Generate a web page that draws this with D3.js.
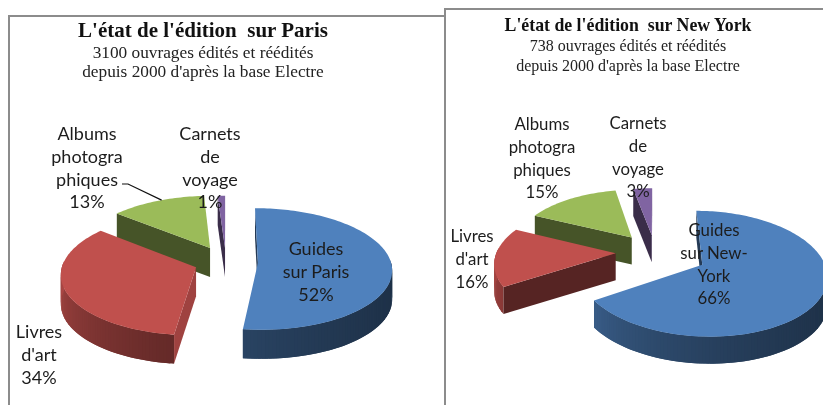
<!DOCTYPE html>
<meta charset="utf-8">
<style>
body { margin: 0; background: #fff; }
svg { display: block; filter: blur(0.45px); }
.title { font-family: "Liberation Serif", serif; font-weight: bold; text-anchor: middle; fill: #111; }
.sub { font-family: "Liberation Serif", serif; text-anchor: middle; fill: #222; }
.lab { font-family: Lato, sans-serif; text-anchor: middle; fill: #1c1c1c; }
</style>
<svg width="823" height="405"></svg>
<script src="https://d3js.org/d3.v7.min.js"></script>
<script>
// data
var colors = ["#4f81bd", "#c0504d", "#9bbb59", "#8064a2"];

var parisValues = [52, 34, 13, 1];
var parisLabels = [["Guides", "sur Paris", "52%"], ["Livres", "d'art", "34%"],
  ["Albums", "photogra", "phiques", "13%"], ["Carnets", "de", "voyage", "1%"]];
var parisTitle = ["L'état de l'édition  sur Paris", "3100 ouvrages édités et réédités", "depuis 2000 d'après la base Electre"];

var nyValues = [66, 16, 15, 3];
var nyLabels = [["Guides", "sur New-", "York", "66%"], ["Livres", "d'art", "16%"],
  ["Albums", "photogra", "phiques", "15%"], ["Carnets", "de", "voyage", "3%"]];
var nyTitle = ["L'état de l'édition  sur New York", "738 ouvrages édités et réédités", "depuis 2000 d'après la base Electre"];

var svg = d3.select("svg");
var line = d3.line();

function darker(c, k) {
  var r = d3.rgb(c);
  return d3.rgb(r.r * k, r.g * k, r.b * k) + "";
}

function drawPie(o) {
  var g = svg.append("g");
  var arcs = d3.pie().sort(null)(o.values);

  var sx = d3.scaleLinear().domain([-1, 1]).range([o.cx - o.rx, o.cx + o.rx]);
  var sy = d3.scaleLinear().domain([-1, 1]).range([o.cy + o.ry, o.cy - o.ry]);

  // world position (unit disc) to screen, back of the pie is shrunk
  function proj(wx, wy) {
    var s = 1 / (1 + o.persp * wy);
    return [sx(wx * s), sy(wy * s)];
  }
  function down(p) { return [p[0], p[1] + o.depth]; }

  // back slices first
  arcs.slice().reverse().forEach(function(d) {
    var i = d.index;
    var mid = (d.startAngle + d.endAngle) / 2;
    var ax = o.explode[i] * Math.sin(mid);
    var ay = o.explode[i] * Math.cos(mid);
    var rim = function(t) { return proj(ax + Math.sin(t), ay + Math.cos(t)); };

    var n = Math.max(2, Math.ceil((d.endAngle - d.startAngle) * 40));
    var angles = d3.range(n + 1).map(function(k) {
      return d.startAngle + (d.endAngle - d.startAngle) * k / n;
    });
    var apex = proj(ax, ay);

    // curved wall, strips overlap the next one so no seams show
    angles.slice(0, -1).forEach(function(a, k) {
      if (Math.cos(a) > 0.05) return;
      var deg = a * 180 / Math.PI;
      var t = Math.min(1, Math.max(0, (deg - 90) / 180));
      var p0 = rim(a), p1 = rim(angles[Math.min(k + 2, n)]);
      g.append("path")
        .attr("d", line([p0, p1, down(p1), down(p0)]) + "Z")
        .attr("fill", darker(colors[i], 0.38 + 0.5 * t * t));
    });

    // flat side faces, only those turned towards the viewer
    [d.startAngle, d.endAngle].forEach(function(a, j) {
      var normal = a + (j == 0 ? -Math.PI / 2 : Math.PI / 2);
      if (Math.cos(normal) > 0.01) return;
      var p = rim(a);
      var shade = Math.sin(normal) > 0.9 ? 0.83 : 0.45;
      g.append("path")
        .attr("d", line([apex, p, down(p), down(apex)]) + "Z")
        .attr("fill", darker(colors[i], shade));
    });

    // top
    g.append("path")
      .attr("d", line([apex].concat(angles.map(rim))) + "Z")
      .attr("fill", colors[i]);

    if (o.leader === i) {
      var end = rim(d.startAngle + (d.endAngle - d.startAngle) * 0.55);
      g.append("path")
        .attr("d", line([[o.leaderFrom[0], o.leaderFrom[1]], [o.leaderFrom[0] + 6, o.leaderFrom[1]], end]))
        .attr("fill", "none")
        .attr("stroke", "#111")
        .attr("stroke-width", 1.2);
    }
  });

  // titles
  g.selectAll("text.head").data(o.title).enter().append("text")
    .attr("class", function(d, i) { return i == 0 ? "head title" : "head sub"; })
    .attr("x", o.titleX)
    .attr("y", function(d, i) { return o.titleY[i]; })
    .style("font-size", function(d, i) { return (i == 0 ? o.titleSize : o.subSize) + "px"; })
    .style("white-space", "pre")
    .text(function(d) { return d; });

  // slice labels
  o.labels.forEach(function(lines, i) {
    g.selectAll(null).data(lines).enter().append("text")
      .attr("class", "lab")
      .style("font-size", o.labelSize + "px")
      .attr("x", o.labelPos[i][0])
      .attr("y", function(d, k) { return o.labelPos[i][1] + k * 22.8; })
      .text(function(d) { return d; });
  });
}

// frames
svg.append("path").attr("d", line([[9, 405], [9, 16], [444, 16]]))
  .attr("fill", "none").attr("stroke", "#8c8c8c").attr("stroke-width", 2);
svg.append("path").attr("d", line([[445, 405], [445, 9], [823, 9]]))
  .attr("fill", "none").attr("stroke", "#8c8c8c").attr("stroke-width", 2);

drawPie({
  values: parisValues, labels: parisLabels, title: parisTitle,
  cx: 226, cy: 262, rx: 133, ry: 60, persp: 0.1, depth: 29,
  explode: [0.24, 0.24, 0.27, 0.24],
  titleX: 203, titleY: [37, 58, 77],
  titleSize: 21, subSize: 17.3, labelSize: 18,
  labelPos: [[316, 255], [39, 338], [87, 140], [210, 140]],
  leader: 2, leaderFrom: [122, 184]
});

drawPie({
  values: nyValues, labels: nyLabels, title: nyTitle,
  cx: 655, cy: 252, rx: 119, ry: 58, persp: 0.14, depth: 27,
  explode: [0.44, 0.33, 0.33, 0.3],
  titleX: 628, titleY: [31, 51, 71],
  titleSize: 17.8, subSize: 16, labelSize: 16.8,
  labelPos: [[714, 236], [472, 242], [542, 130], [638, 129]]
});
</script>
